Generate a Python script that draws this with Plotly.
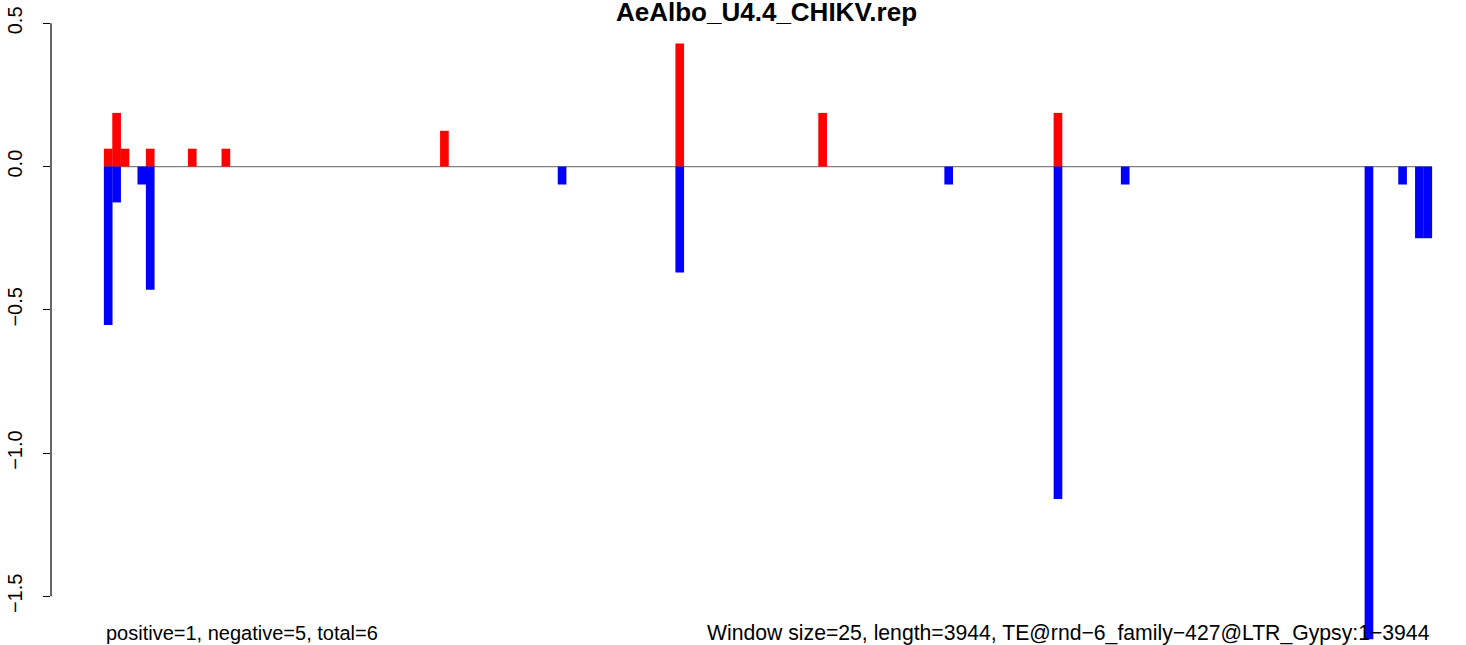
import plotly.graph_objects as go

# window index (0-based, window size 25) and value of each non-empty window
pos_idx = [0, 1, 2, 5, 10, 14, 40, 68, 85, 113]
pos_val = [0.0625, 0.1875, 0.0625, 0.0625, 0.0625, 0.0625, 0.125, 0.43, 0.1875, 0.1875]

neg_idx = [0, 1, 4, 5, 54, 68, 100, 113, 121, 150, 154, 156, 157]
neg_val = [-0.553, -0.125, -0.0625, -0.43, -0.0625, -0.37, -0.0625, -1.16, -0.0625, -1.65, -0.0625, -0.25, -0.25]

n_windows = 158
title = "AeAlbo_U4.4_CHIKV.rep"
left_note = "positive=1, negative=5, total=6"
right_note = "Window size=25, length=3944, TE@rnd\u22126_family\u2212427@LTR_Gypsy:1\u22123944"
ytick_vals = [-1.5, -1.0, -0.5, 0.0, 0.5]
ytick_text = ["\u22121.5", "\u22121.0", "\u22120.5", "0.0", "0.5"]

font = "Liberation Sans, Arial, sans-serif"
W, H = 1466, 645

fig = go.Figure()
# slightly over 1 so neighbouring windows join without a hairline seam
fig.add_trace(go.Bar(x=[i + 0.5 for i in pos_idx], y=pos_val, width=1.03,
                     marker=dict(color="#ff0000", line=dict(width=0))))
fig.add_trace(go.Bar(x=[i + 0.5 for i in neg_idx], y=neg_val, width=1.03,
                     marker=dict(color="#0000ff", line=dict(width=0))))

# zero line across the windows, and the y axis line only over the tick range
fig.add_shape(type="line", x0=0, x1=n_windows, y0=0, y1=0, xref="x", yref="y",
              line=dict(color="#808080", width=1.2), layer="below")
fig.add_shape(type="line", x0=0, x1=0, y0=ytick_vals[0], y1=ytick_vals[-1], xref="paper", yref="y",
              line=dict(color="black", width=1.2))

fig.add_annotation(text="<b>" + title + "</b>", x=0.506, y=1 - 12 / H, xref="paper", yref="paper",
                   xanchor="center", yanchor="middle", showarrow=False,
                   font=dict(family=font, size=26, color="black"))
fig.add_annotation(text=left_note, x=0, y=1 - 633 / H, xref="x", yref="paper",
                   xanchor="left", yanchor="middle", showarrow=False,
                   font=dict(family=font, size=20, color="black"))
fig.add_annotation(text=right_note, x=n_windows, y=1 - 633 / H, xref="x", yref="paper",
                   xanchor="right", yanchor="middle", showarrow=False,
                   font=dict(family=font, size=21.2, color="black"))

px_per_win = 8.405
fig.update_xaxes(range=[(51 - 104) / px_per_win, (W - 104) / px_per_win],
                 showgrid=False, zeroline=False, showticklabels=False, ticks="", showline=False)
fig.update_yaxes(range=[-(H - 166.6) / 286.5, 166.6 / 286.5],
                 tickvals=ytick_vals, ticktext=ytick_text, tickangle=-90,
                 ticks="outside", ticklen=7, tickcolor="black", tickwidth=1.2,
                 ticklabelstandoff=13,
                 tickfont=dict(family=font, size=20, color="black"),
                 showgrid=False, zeroline=False, showline=False)

fig.update_layout(width=W, height=H, margin=dict(l=51, r=0, t=0, b=0),
                  barmode="overlay", showlegend=False,
                  plot_bgcolor="white", paper_bgcolor="white")

# drop the page's default 8px body margin so the figure sits at the window corner
fig.write_html("out.html", config={"displayModeBar": False},
               post_script="document.body.style.margin='0';document.body.style.overflow='hidden';")
